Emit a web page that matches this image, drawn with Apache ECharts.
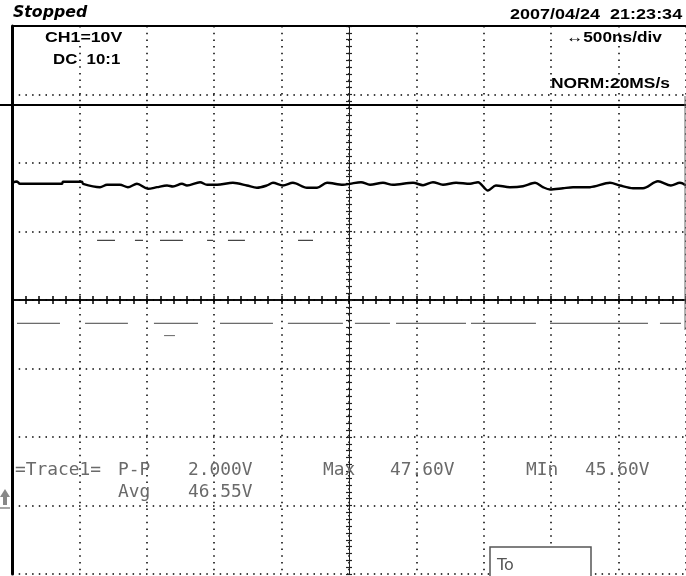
<!DOCTYPE html>
<html>
<head>
<meta charset="utf-8">
<script src="https://cdn.jsdelivr.net/npm/echarts@6/dist/echarts.min.js"></script>
<style>
  html, body { margin: 0; padding: 0; background: #fff; }
  #chart { width: 686px; height: 576px; }
</style>
</head>
<body>
<div id="chart"></div>
<script>
// time in ns (500 ns/div, 10 div), voltage in V (10 V/div, ground at 0)
const traceTime = [0, 37, 59, 371, 378, 519, 527, 653, 705, 801, 860, 927, 1009, 1076, 1150, 1194, 1261, 1298, 1395, 1447, 1521, 1639, 1743, 1817, 1892, 1936, 2010, 2084, 2188, 2263, 2337, 2455, 2507, 2589, 2656, 2752, 2826, 2975, 3049, 3123, 3197, 3294, 3398, 3457, 3531, 3590, 3694, 3791, 3880, 3939, 3991, 4087, 4162, 4288, 4436, 4510, 4607, 4681, 4792, 4888, 4955, 5000]
const traceVolt = [47.11, 47.30, 46.96, 46.96, 47.26, 47.26, 46.96, 46.47, 46.82, 46.82, 46.47, 46.96, 46.23, 46.47, 46.72, 46.57, 46.96, 46.72, 47.20, 46.82, 46.82, 47.11, 46.72, 46.38, 46.72, 47.11, 46.72, 47.11, 46.38, 46.38, 47.11, 46.82, 46.96, 47.20, 46.82, 47.11, 46.82, 47.11, 46.76, 47.20, 46.82, 47.11, 46.96, 47.20, 45.99, 46.72, 46.47, 46.61, 47.11, 46.47, 46.13, 46.32, 46.47, 46.47, 47.11, 46.72, 46.32, 46.32, 47.34, 46.72, 47.11, 46.72]

// faint ghost segments [start ns, end ns] at a fixed level
const ghostLowLevel = 26.6
const ghostLowSegs = [[37, 356], [542, 860], [1053, 1380], [1543, 1936], [2047, 2455], [2544, 2804], [2849, 3368], [3405, 3887], [3991, 4718], [4807, 4963]]
const ghostMidLevel = 38.7
const ghostMidSegs = [[631, 764], [912, 972], [1098, 1268], [1447, 1491], [1602, 1728], [2122, 2233]]
const ghostDotLevel = 24.8
const ghostDotSegs = [[1128, 1209]]

const xMin = 0, xMax = 5000, xStep = 500
const yMin = -10, yMax = 70, yStep = 10

const toSegData = (segs, level) => {
  const out = []
  segs.forEach(s => { out.push([s[0], level], [s[1], level], [s[1], '-']) })
  return out
}

const chart = echarts.init(document.getElementById('chart'))
const dotted = { color: '#000', width: 1.5, type: [1.5, 5.2] }
const mono = 'DejaVu Sans Mono'
const grey = '#6a6a6a'
const hdr = '"Liberation Sans"'
// text helper; sx stretches text horizontally from its anchor point
const txt = (x, y, text, style, sx) => ({
  type: 'text', x, y, z: 50, scaleX: sx || 1, originX: 0, originY: 0,
  style: Object.assign({ text, fill: '#000', font: 'bold 15px ' + hdr, textVerticalAlign: 'middle' }, style)
})
const tick = { color: '#000', width: 1.5 }

const option = {
  backgroundColor: '#fff',
  animation: false,
  grid: [
    { left: 12, right: 0, top: 26, bottom: 2 },
    { left: 12, right: 0, top: 26, bottom: 2 }
  ],
  xAxis: [
    {
      type: 'value', gridIndex: 0, min: xMin, max: xMax, interval: xStep,
      axisLine: { show: false }, axisTick: { show: false }, axisLabel: { show: false },
      splitLine: { show: true, lineStyle: dotted }
    },
    {
      type: 'value', gridIndex: 1, min: -5, max: 5, interval: 1, position: 'bottom',
      axisLine: { show: true, onZero: true, lineStyle: { color: '#000', width: 1.5 } },
      axisTick: { show: true, length: 4, lineStyle: tick },
      minorTick: { show: true, splitNumber: 5, length: 4, lineStyle: tick },
      axisLabel: { show: false }, splitLine: { show: false }
    },
    {
      type: 'value', gridIndex: 1, min: -5, max: 5, interval: 1, position: 'top',
      axisLine: { show: true, onZero: true, lineStyle: { color: '#000', width: 1.5 } },
      axisTick: { show: true, length: 4, lineStyle: tick },
      minorTick: { show: true, splitNumber: 5, length: 4, lineStyle: tick },
      axisLabel: { show: false }, splitLine: { show: false }
    }
  ],
  yAxis: [
    {
      type: 'value', gridIndex: 0, min: yMin, max: yMax, interval: yStep,
      axisLine: { show: true, onZero: false, lineStyle: { color: '#000', width: 3 } },
      axisTick: { show: false }, axisLabel: { show: false },
      splitLine: { show: true, lineStyle: dotted }
    },
    {
      type: 'value', gridIndex: 1, min: -4, max: 4, interval: 1, position: 'left',
      axisLine: { show: true, onZero: true, lineStyle: { color: '#222', width: 1 } },
      axisTick: { show: true, length: 3, lineStyle: { color: '#222', width: 1.2 } },
      minorTick: { show: true, splitNumber: 10, length: 3, lineStyle: { color: '#222', width: 1.2 } },
      axisLabel: { show: false }, splitLine: { show: false }
    },
    {
      type: 'value', gridIndex: 1, min: -4, max: 4, interval: 1, position: 'right',
      axisLine: { show: true, onZero: true, lineStyle: { color: '#222', width: 1 } },
      axisTick: { show: true, length: 3, lineStyle: { color: '#222', width: 1.2 } },
      minorTick: { show: true, splitNumber: 10, length: 3, lineStyle: { color: '#222', width: 1.2 } },
      axisLabel: { show: false }, splitLine: { show: false }
    }
  ],
  series: [
    {
      name: 'ghostLow', type: 'line', xAxisIndex: 0, yAxisIndex: 0, symbol: 'none',
      data: toSegData(ghostLowSegs, ghostLowLevel), connectNulls: false,
      lineStyle: { color: '#444', width: 1 }, z: 3
    },
    {
      name: 'ghostMid', type: 'line', xAxisIndex: 0, yAxisIndex: 0, symbol: 'none',
      data: toSegData(ghostMidSegs, ghostMidLevel), connectNulls: false,
      lineStyle: { color: '#444', width: 1.3 }, z: 3
    },
    {
      name: 'ghostDot', type: 'line', xAxisIndex: 0, yAxisIndex: 0, symbol: 'none',
      data: toSegData(ghostDotSegs, ghostDotLevel), connectNulls: false,
      lineStyle: { color: '#666', width: 1 }, z: 3
    },
    {
      name: 'Trace1', type: 'line', xAxisIndex: 0, yAxisIndex: 0, symbol: 'none', smooth: 0.3,
      data: traceTime.map((t, i) => [t, traceVolt[i]]),
      lineStyle: { color: '#000', width: 2.4 }, z: 5
    }
  ],
  graphic: [
    { type: 'line', shape: { x1: 12, y1: 26, x2: 686, y2: 26 }, style: { stroke: '#000', lineWidth: 2 }, z: 40 },
    { type: 'line', shape: { x1: 0, y1: 105, x2: 686, y2: 105 }, style: { stroke: '#000', lineWidth: 2 }, z: 40 },
    { type: 'line', shape: { x1: 685, y1: 96, x2: 685, y2: 330 }, style: { stroke: '#666', lineWidth: 1 }, z: 40 },
    // ground marker
    {
      type: 'polygon', z: 40,
      shape: { points: [[5, 489], [10, 497], [7, 497], [7, 505], [3, 505], [3, 497], [0, 497]] },
      style: { fill: '#888' }
    },
    { type: 'line', shape: { x1: 0, y1: 508, x2: 10, y2: 508 }, style: { stroke: '#888', lineWidth: 1.5 }, z: 40 },
    // trigger box
    { type: 'rect', shape: { x: 490, y: 547, width: 101, height: 40 }, style: { fill: '#fff', stroke: '#555', lineWidth: 1.5 }, z: 40 },
    txt(497, 566, 'To', { fill: '#555', font: '16px "DejaVu Sans"' }),
    // header
    txt(13, 13, 'Stopped', { font: 'italic bold 15px "DejaVu Sans"' }, 1.05),
    txt(510, 15, '2007/04/24  21:23:34', { font: 'bold 15px ' + hdr }, 1.2),
    txt(45, 38, 'CH1=10V', { font: 'bold 15px ' + hdr, backgroundColor: '#fff' }, 1.18),
    txt(53, 60, 'DC  10:1', { font: 'bold 15px ' + hdr }, 1.12),
    txt(566, 38, '↔500ns/div', { font: 'bold 15px ' + hdr }, 1.15),
    txt(551, 84, 'NORM:20MS/s', { font: 'bold 15px ' + hdr }, 1.16),
    // measurements
    txt(15, 471, '=Trace1=', { fill: grey, font: '17px ' + mono }, 1.05),
    txt(118, 471, 'P-P', { fill: grey, font: '17px ' + mono }, 1.05),
    txt(188, 471, '2.000V', { fill: grey, font: '17px ' + mono }, 1.05),
    txt(323, 471, 'Max', { fill: grey, font: '17px ' + mono }, 1.05),
    txt(390, 471, '47.60V', { fill: grey, font: '17px ' + mono }, 1.05),
    txt(526, 471, 'MIn', { fill: grey, font: '17px ' + mono }, 1.05),
    txt(585, 471, '45.60V', { fill: grey, font: '17px ' + mono }, 1.05),
    txt(118, 493, 'Avg', { fill: grey, font: '17px ' + mono }, 1.05),
    txt(188, 493, '46.55V', { fill: grey, font: '17px ' + mono }, 1.05)
  ]
}
chart.setOption(option)
window.addEventListener('resize', () => chart.resize())
</script>
</body>
</html>
